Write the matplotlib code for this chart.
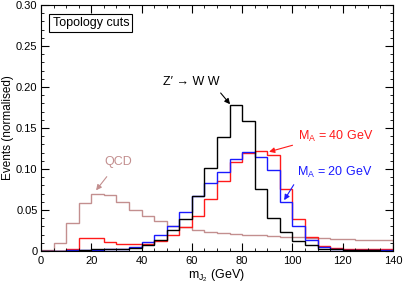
import matplotlib
matplotlib.use("Agg")
import matplotlib.pyplot as plt
import numpy as np

plt.rcParams['font.family'] = ['Liberation Sans', 'DejaVu Sans']
plt.rcParams['mathtext.fontset'] = 'custom'
plt.rcParams['mathtext.rm'] = 'Liberation Sans'
plt.rcParams['mathtext.it'] = 'Liberation Sans'

# bordes de los bins (GeV)
bordes = np.arange(0, 145, 5)

# Z' -> W W
zww = [0.0, 0.0, 0.0005, 0.001, 0.0025, 0.003, 0.003, 0.004, 0.007, 0.014,
       0.026, 0.039, 0.067, 0.101, 0.139, 0.178, 0.159, 0.0756, 0.0406, 0.0236,
       0.0126, 0.0073, 0.003, 0.002, 0.0015, 0.001, 0.001, 0.0005]

# M_A = 40 GeV
ma40 = [0.0, 0.0005, 0.002, 0.0155, 0.0155, 0.0106, 0.008, 0.009, 0.008, 0.012,
        0.020, 0.029, 0.043, 0.064, 0.085, 0.108, 0.119, 0.1216, 0.117, 0.075,
        0.0386, 0.0175, 0.0065, 0.004, 0.003, 0.0025, 0.002, 0.002]

# M_A = 20 GeV
ma20 = [0.0, 0.0005, 0.001, 0.001, 0.0015, 0.002, 0.002, 0.005, 0.011, 0.0195,
        0.0305, 0.048, 0.067, 0.083, 0.0967, 0.112, 0.1207, 0.115, 0.0988, 0.060,
        0.0305, 0.0134, 0.005, 0.002, 0.0015, 0.0015, 0.001, 0.001]

# QCD
qcd = [0.001, 0.0098, 0.0345, 0.058, 0.070, 0.0687, 0.0594, 0.050, 0.0427, 0.036,
       0.031, 0.029, 0.025, 0.0235, 0.022, 0.021, 0.020, 0.019, 0.018, 0.0175,
       0.017, 0.016, 0.0155, 0.015, 0.0145, 0.014, 0.0135, 0.013]

c_qcd = '#c38f8f'
c_rojo = '#ff1a1a'
c_azul = '#1a1aff'

fig = plt.figure(figsize=(4.04, 2.86), dpi=100)
ax = fig.add_axes([0.1015, 0.1224, 0.8713, 0.8601])

ax.stairs(qcd, bordes, color=c_qcd, lw=1.0)
ax.stairs(ma40, bordes, color=c_rojo, lw=1.0)
ax.stairs(ma20, bordes, color=c_azul, lw=1.0)
ax.stairs(zww, bordes, color='black', lw=1.0)

ax.set_xlim(0, 140)
ax.set_ylim(0, 0.30)
ax.set_xticks(np.arange(0, 141, 20))
ax.set_xticks(np.arange(0, 141, 5), minor=True)
ax.set_yticks([0, 0.05, 0.10, 0.15, 0.20, 0.25, 0.30])
ax.set_yticklabels(['0', '0.05', '0.10', '0.15', '0.20', '0.25', '0.30'])
ax.set_yticks(np.arange(0, 0.301, 0.01), minor=True)
ax.tick_params(which='both', direction='in', top=True, right=True, labelsize=8)
ax.tick_params(which='major', length=5.5, width=0.8)
ax.tick_params(which='minor', length=2.5, width=0.6)
ax.tick_params(axis='y', which='major', pad=2.5)

ax.set_xlabel(r'm$_{\mathrm{J}_2}$ (GeV)', fontsize=9, labelpad=1)
ax.set_ylabel('Events (normalised)', fontsize=8.5)
ax.yaxis.set_label_coords(-0.078, 0.5)

ax.text(4.6, 0.278, 'Topology cuts', fontsize=9, va='center', ha='left',
        bbox=dict(boxstyle='square,pad=0.25', fc='white', ec='black', lw=0.8))

ax.annotate('QCD', xy=(21.9, 0.074), xytext=(30.6, 0.108), color=c_qcd,
            fontsize=9, ha='center', va='center',
            arrowprops=dict(arrowstyle='-|>', color=c_qcd, lw=0.8, mutation_scale=8,
                            shrinkA=5, shrinkB=0))
ax.annotate('Z\u2032 \u2192 W W', xy=(75.2, 0.179), xytext=(59.7, 0.206), color='black',
            fontsize=9, ha='center', va='center',
            arrowprops=dict(arrowstyle='-|>', color='black', lw=0.8, mutation_scale=8,
                            shrinkA=2, shrinkB=0, relpos=(0.95, 0.0)))
ax.annotate(r'M$_\mathrm{A}$ = 40 GeV', xy=(90.7, 0.121), xytext=(102.2, 0.140),
            color=c_rojo, fontsize=9, ha='left', va='center',
            arrowprops=dict(arrowstyle='-|>', color=c_rojo, lw=0.8, mutation_scale=8,
                            shrinkA=2, shrinkB=0, relpos=(0.0, 0.0)))
ax.annotate(r'M$_\mathrm{A}$ = 20 GeV', xy=(96.7, 0.062), xytext=(101.8, 0.0963),
            color=c_azul, fontsize=9, ha='left', va='center',
            arrowprops=dict(arrowstyle='-|>', color=c_azul, lw=0.8, mutation_scale=8,
                            shrinkA=2, shrinkB=0, relpos=(0.0, 0.0)))

fig.savefig('out.png', dpi=100)
